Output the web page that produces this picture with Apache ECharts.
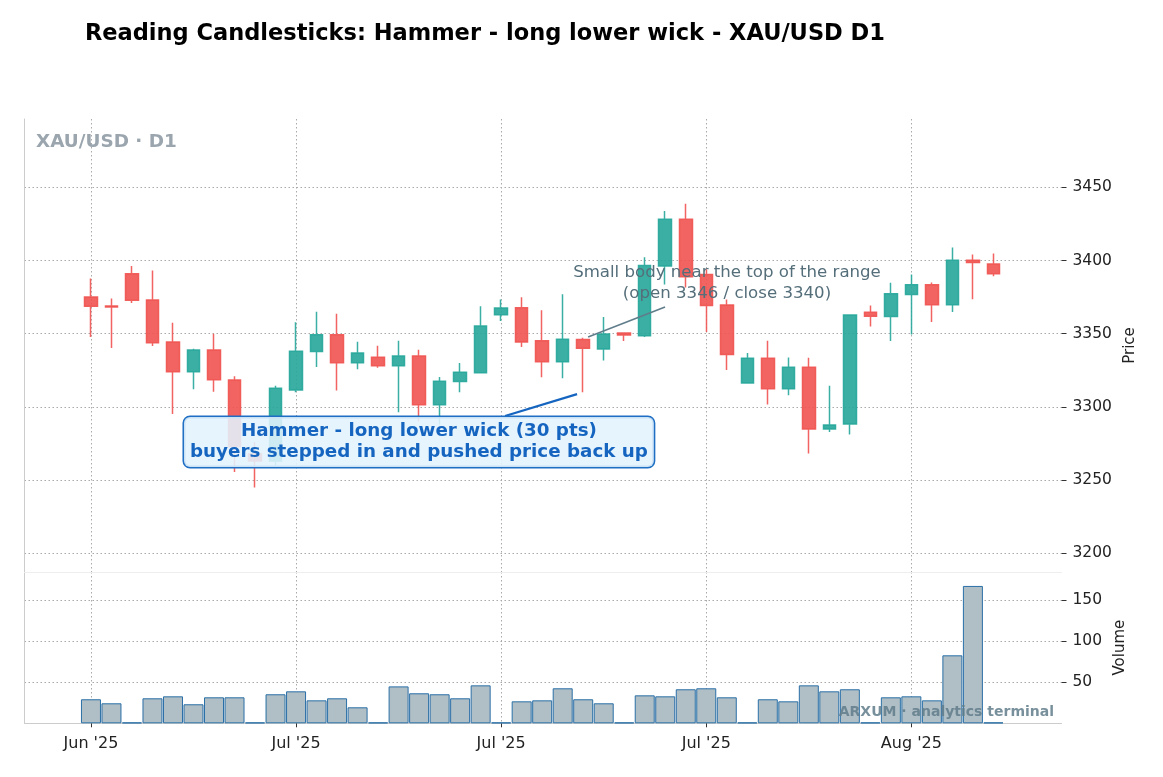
<!DOCTYPE html>
<html><head><meta charset="utf-8">
<script src="https://cdn.jsdelivr.net/npm/echarts@6/dist/echarts.min.js"></script>
<style>html,body{margin:0;padding:0;background:#fff}#chart{width:1163px;height:777px}</style>
</head><body><div id="chart"></div>
<script>
// ---- data ----
const dates = ['2025-06-26','2025-06-27','2025-06-29','2025-06-30','2025-07-01','2025-07-02','2025-07-03','2025-07-04','2025-07-06','2025-07-07',
  '2025-07-08','2025-07-09','2025-07-10','2025-07-11','2025-07-13','2025-07-14','2025-07-15','2025-07-16','2025-07-17','2025-07-18',
  '2025-07-20','2025-07-21','2025-07-22','2025-07-23','2025-07-24','2025-07-25','2025-07-27','2025-07-28','2025-07-29','2025-07-30',
  '2025-07-31','2025-08-01','2025-08-03','2025-08-04','2025-08-05','2025-08-06','2025-08-07','2025-08-08','2025-08-10','2025-08-11',
  '2025-08-12','2025-08-13','2025-08-14','2025-08-15','2025-08-17'];
const opens  = [3375.1,3369.0,3390.9,3373.1,3344.3,3324.0,3338.8,3318.3,3268.0,3263.0,
  3311.6,3337.9,3349.3,3330.1,3334.0,3328.1,3334.7,3301.4,3317.4,3323.3,
  3363.0,3367.8,3345.2,3330.8,3346.0,3339.5,3350.5,3348.6,3396.3,3428.2,
  3390.4,3369.7,3316.3,3333.3,3312.4,3327.1,3284.9,3288.3,3364.7,3361.8,
  3376.8,3383.4,3369.8,3400.2,3397.7];
const closes = [3368.7,3368.3,3372.8,3343.8,3324.0,3338.8,3318.5,3273.0,3263.0,3312.8,
  3338.1,3349.3,3330.1,3336.8,3328.1,3334.7,3301.4,3317.6,3323.7,3355.3,
  3367.6,3344.3,3330.8,3346.3,3340.0,3349.8,3349.1,3396.6,3428.2,3389.0,
  3369.3,3335.8,3333.3,3312.4,3327.1,3284.9,3287.6,3362.8,3362.0,3377.3,
  3383.4,3369.8,3400.2,3398.6,3390.9];
const lows   = [3347.7,3340.2,3371.0,3341.6,3295.2,3312.1,3310.3,3255.5,3245.0,3260.0,
  3310.0,3327.2,3311.2,3325.8,3326.7,3296.3,3290.0,3288.0,3310.0,3323.3,
  3358.7,3340.9,3320.3,3319.6,3310.0,3331.7,3345.0,3347.7,3383.7,3381.6,
  3351.1,3325.2,3316.3,3301.6,3308.0,3268.1,3282.8,3281.2,3355.0,3345.0,
  3349.5,3358.0,3364.8,3373.6,3389.3];
const highs  = [3387.7,3374.0,3396.3,3393.2,3357.5,3339.7,3350.0,3321.0,3276.0,3314.4,
  3357.8,3365.0,3363.7,3344.5,3341.8,3345.2,3339.0,3320.5,3330.0,3368.7,
  3373.3,3374.9,3366.0,3376.9,3347.3,3361.4,3351.0,3402.3,3433.9,3438.8,
  3394.0,3373.4,3336.9,3345.2,3333.7,3333.5,3314.4,3362.8,3369.3,3384.8,
  3390.5,3385.0,3408.9,3404.1,3404.8];
const volumes = [29.3,24.4,1,30.5,32.9,23.2,31.7,31.7,1,35.4,
  39,28,30.5,19.5,1,45,36.6,35.4,30.5,46.3,
  1,26.8,28,42.7,29.3,24.4,1,34.1,32.9,41.5,
  42.7,31.7,1,29.3,26.8,46.3,39,41.5,1,31.7,
  32.9,28,82.9,167.5,1];
const priceTicks = [3200,3250,3300,3350,3400,3450];
const volumeTicks = [50,100,150];
const dateTickIndex = [0,10,20,30,40];
const MONTHS = ['Jan','Feb','Mar','Apr','May','Jun','Jul','Aug','Sep','Oct','Nov','Dec'];
function monthLabel(d){ const p = d.split('-'); return MONTHS[+p[1]-1] + " '" + p[0].slice(2); }

const candleData = dates.map((d,i)=>[i, opens[i], closes[i], lows[i], highs[i]]);
const volumeData = volumes.map((v,i)=>[i, v]);

const FONT = 'DejaVu Sans';
const gridLine = {show:true, lineStyle:{type:[1.5,2.5], color:'#a9a9a9', width:1}};
const X_MIN = -3.24, X_MAX = 47.32;

const chart = echarts.init(document.getElementById('chart'));
chart.setOption({
  animation:false,
  backgroundColor:'#ffffff',
  title:{text:'Reading Candlesticks: Hammer - long lower wick - XAU/USD D1', left:80, top:18,
    textStyle:{fontFamily:FONT, fontWeight:'bold', fontSize:22.5, color:'#000'}},
  grid:[
    {left:24.5, right:101.5, top:119, height:453},
    {left:24.5, right:101.5, top:572, height:151.3}
  ],
  xAxis:[
    {type:'value', gridIndex:0, min:X_MIN, max:X_MAX,
      axisLine:{show:true, onZero:false, lineStyle:{color:'#eeeeee'}}, axisTick:{show:false, customValues:dateTickIndex},
      axisLabel:{show:false, customValues:dateTickIndex}, splitLine:gridLine},
    {type:'value', gridIndex:1, min:X_MIN, max:X_MAX,
      axisLine:{show:true, onZero:false, lineStyle:{color:'#cccccc'}},
      axisTick:{show:true, customValues:dateTickIndex, length:4, lineStyle:{color:'#333'}},
      axisLabel:{customValues:dateTickIndex, formatter:v=>monthLabel(dates[Math.round(v)]),
        fontFamily:FONT, fontSize:16, color:'#222', margin:13},
      splitLine:gridLine}
  ],
  yAxis:[
    {type:'value', gridIndex:0, position:'right', min:3187.2, max:3496.7,
      name:'Price', nameLocation:'middle', nameGap:60,
      nameTextStyle:{fontFamily:FONT, fontSize:15, color:'#222'},
      axisLine:{show:false, onZero:false}, axisTick:{show:true, length:5, customValues:priceTicks, lineStyle:{color:'#333'}},
      axisLabel:{customValues:priceTicks, formatter:v=>String(v), fontFamily:FONT, fontSize:15.5, color:'#222', margin:11},
      splitLine:gridLine},
    {type:'value', gridIndex:1, position:'right', min:0, max:184.5,
      name:'Volume', nameLocation:'middle', nameGap:50,
      nameTextStyle:{fontFamily:FONT, fontSize:15, color:'#222'},
      axisLine:{show:false, onZero:false}, axisTick:{show:true, length:5, customValues:volumeTicks, lineStyle:{color:'#333'}},
      axisLabel:{customValues:volumeTicks, formatter:v=>String(v), fontFamily:FONT, fontSize:15.5, color:'#222', margin:11},
      splitLine:gridLine},
    {type:'value', gridIndex:0, position:'left', min:0, max:1,
      axisLine:{show:true, onZero:false, lineStyle:{color:'#cccccc'}}, axisTick:{show:false}, axisLabel:{show:false}, splitLine:{show:false}},
    {type:'value', gridIndex:1, position:'left', min:0, max:1,
      axisLine:{show:true, onZero:false, lineStyle:{color:'#cccccc'}}, axisTick:{show:false}, axisLabel:{show:false}, splitLine:{show:false}}
  ],
  series:[
    {type:'candlestick', xAxisIndex:0, yAxisIndex:0, data:candleData, barWidth:13,
      itemStyle:{color:'#26a69a', color0:'#ef5350', borderColor:'#26a69a', borderColor0:'#ef5350', borderWidth:1.5, opacity:0.9}},
    {type:'bar', xAxisIndex:1, yAxisIndex:1, data:volumeData, barWidth:20,
      itemStyle:{color:'#b0bec5', borderColor:'#2a6fa6', borderWidth:1}},
    {type:'scatter', xAxisIndex:0, yAxisIndex:0, data:[], z:10, silent:true,
      markLine:{silent:true, symbol:['none','arrow'], symbolSize:[0,9], label:{show:false},
        data:[
          [{coord:[20.19,3293.8], lineStyle:{color:'#1565c0', width:2.2, type:'solid'}}, {coord:[23.7,3308.7]}],
          [{coord:[27.99,3368.2], lineStyle:{color:'#607d8b', width:1.6, type:'solid'}}, {coord:[24.24,3347.8]}]
        ]},
      markPoint:{silent:true, symbol:'rect', symbolSize:1, itemStyle:{color:'rgba(0,0,0,0)'},
        data:[
          {coord:[15.99,3276], label:{show:true, position:'inside',
            formatter:'Hammer - long lower wick (30 pts)\nbuyers stepped in and pushed price back up',
            color:'#1565c0', fontFamily:FONT, fontWeight:'bold', fontSize:18.3, lineHeight:21, align:'center',
            backgroundColor:'rgba(227,242,253,0.88)', borderColor:'#1e6fc4', borderWidth:1.5, borderRadius:6, padding:[4,6]}},
          {coord:[31.01,3384.3], label:{show:true, position:'inside',
            formatter:'Small body near the top of the range\n(open 3346 / close 3340)',
            color:'#546e7a', fontFamily:FONT, fontSize:16.6, lineHeight:21, align:'center'}}
        ]}
    }
  ],
  graphic:[
    {type:'text', left:36, top:133, z:100, style:{text:'XAU/USD · D1', fill:'#9aa5ae', font:'bold 18.4px "DejaVu Sans"'}},
    {type:'text', right:109, top:705, z:100, style:{text:'ARXUM · analytics terminal', fill:'rgba(96,125,139,0.85)', font:'bold 14px "DejaVu Sans"'}}
  ]
});
</script></body></html>
